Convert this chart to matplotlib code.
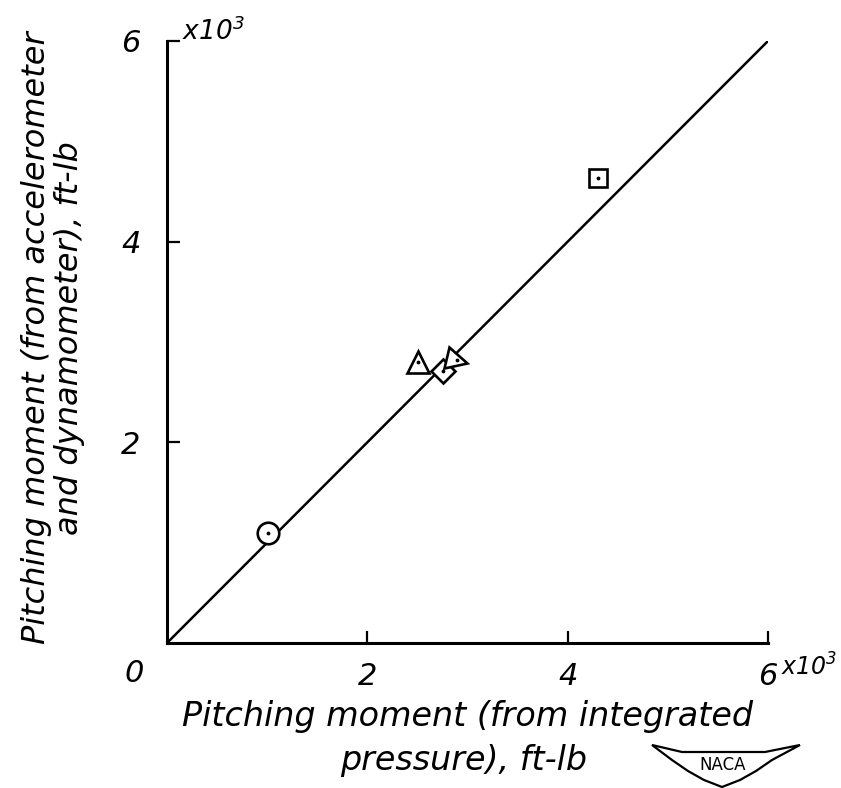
import matplotlib.pyplot as plt
from matplotlib.markers import MarkerStyle
from matplotlib.transforms import Affine2D
from matplotlib.patches import Polygon

plt.rcParams['font.family'] = 'DejaVu Sans'
plt.rcParams['font.style'] = 'italic'
plt.rcParams['mathtext.fontset'] = 'dejavusans'

# values, ft-lb
integrated = [1010, 2510, 2760, 2900, 4300]
measured = [1095, 2800, 2710, 2825, 4630]
marker_names = ['circle', 'triangle', 'diamond', 'tilted triangle', 'square']

# line of perfect agreement
line_x = [0, 6000]
line_y = [0, 6000]

tick_vals = [2000, 4000, 6000]
tick_labels = ['2', '4', '6']

W, H = 841, 788
fig = plt.figure(figsize=(W / 100, H / 100), dpi=100)
ax = fig.add_axes([167 / W, 1 - 643 / H, 601 / W, 602 / H])

ax.plot(line_x, line_y, color='black', lw=1.8, zorder=2)

tilted = MarkerStyle('>', transform=Affine2D().rotate_deg(-15))
styles = {
    'circle': ('o', 15.5),
    'triangle': ('^', 15.5),
    'diamond': ('D', 12),
    'tilted triangle': (tilted, 15.5),
    'square': ('s', 13),
}
for xv, yv, name in zip(integrated, measured, marker_names):
    m, ms = styles[name]
    ax.plot([xv], [yv], marker=m, ms=ms, mfc='white', mec='black', mew=1.9,
            ls='none', zorder=3, clip_on=False)
    ax.plot([xv], [yv], marker='.', ms=3.5, color='black', ls='none', zorder=4,
            clip_on=False)

ax.set_xlim(0, 6000)
ax.set_ylim(0, 6000)
for s in ['top', 'right']:
    ax.spines[s].set_visible(False)
for s in ['left', 'bottom']:
    ax.spines[s].set_linewidth(2.2)

ax.set_xticks(tick_vals)
ax.set_xticklabels(tick_labels)
ax.set_yticks(tick_vals)
ax.set_yticklabels(tick_labels)
ax.tick_params(direction='in', length=9, width=1.6, labelsize=22, pad=14)
ax.tick_params(axis='y', pad=19)

# corner zero and multipliers
ax.text(-0.055, -0.05, '0', transform=ax.transAxes, fontsize=22,
        ha='center', va='center')
ax.text(1.022, -0.04, r'x10$^3$', transform=ax.transAxes, fontsize=17,
        ha='left', va='center')
ax.text(0.025, 1.015, r'x10$^3$', transform=ax.transAxes, fontsize=19,
        ha='left', va='center')

ax.set_xlabel('Pitching moment (from integrated', fontsize=24)
ax.xaxis.set_label_coords(0.5, -0.095)
ax.text(0.493, -0.195, 'pressure), ft-lb', transform=ax.transAxes,
        fontsize=24, ha='center', va='center')

fig.text(53 / W, 1 - 338 / H,
         'Pitching moment (from accelerometer\nand dynamometer), ft-lb',
         rotation=90, fontsize=23, ha='center', va='center',
         multialignment='center', linespacing=1.1)

# NACA wing emblem
wing = [(652, 745), (682, 752), (765, 752), (800, 745), (772, 760),
        (756, 771), (740, 780), (722, 787), (704, 780), (688, 771),
        (672, 760)]
fig.patches.append(Polygon([(x / W, 1 - y / H) for x, y in wing], closed=True,
                           fill=False, ec='black', lw=1.6,
                           transform=fig.transFigure, figure=fig))
fig.text(723 / W, 1 - 765 / H, 'NACA', fontsize=12, fontstyle='normal',
         ha='center', va='center')

fig.savefig('out.png', dpi=100)
